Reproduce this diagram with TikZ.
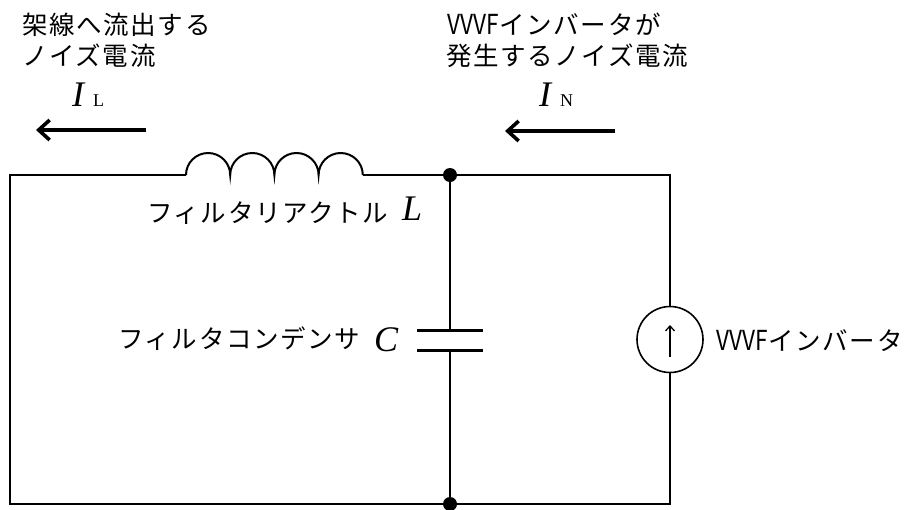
\documentclass[tikz,border=0pt]{standalone}
\usepackage{fontspec}
\setmainfont{Liberation Serif}
\newfontfamily\jp[LetterSpace=6.5]{Noto Sans CJK JP}
\newfontfamily\vf[FakeStretch=0.82,Kerning=Off,LetterSpace=1,Scale=1.08]{Noto Sans CJK JP}
\usetikzlibrary{arrows.meta}
\tikzset{
  wire/.style={line width=2pt,line join=miter},
  curarrow/.style={line width=4pt,-{Straight Barb[length=11pt,width=20pt,line width=3.6pt]}},
  jtext/.style={anchor=base west,inner sep=0pt,font=\jp\fontsize{25.5}{25.5}\selectfont},
  sym/.style={inner sep=0pt,font=\itshape\fontsize{36}{36}\selectfont},
  sub/.style={inner sep=0pt,anchor=base west,font=\fontsize{18}{18}\selectfont},
  dot/.style={circle,fill=black,inner sep=0pt,minimum size=14pt},
}
\begin{document}
\begin{tikzpicture}[x=1pt,y=-1pt]
\useasboundingbox (0,0) rectangle (905,509);
\coordinate (tl) at (10,175);
\coordinate (bl) at (10,504);
\coordinate (tr) at (670,175);
\coordinate (br) at (670,504);
\coordinate (li) at (186,175);
\coordinate (lo) at (363,175);
\node[dot] (jt) at (450,175) {};
\node[dot] (jb) at (450,504) {};
\coordinate (c1) at (450,330);
\coordinate (c2) at (450,350);
\coordinate (c1l) at (417,330);
\coordinate (c1r) at (483,330);
\coordinate (c2l) at (417,350);
\coordinate (c2r) at (483,350);
\node[circle,draw,line width=1.6pt,minimum size=66pt,inner sep=0pt] (src) at (670,339.5) {};
\draw[wire] (li) -- (tl) -- (bl) -- (jb.center) -- (br) -- (src.south);
\draw[wire] (src.north) -- (tr) -- (jt.center) -- (lo);
\draw[wire] (jt.center) -- (c1);
\draw[wire] (c2) -- (jb.center);
\draw[line width=3pt] (c1l) -- (c1r);
\draw[line width=3pt] (c2l) -- (c2r);
\draw[wire] (li) arc[start angle=180,end angle=360,x radius=22.1,y radius=22]
  arc[start angle=180,end angle=360,x radius=22.1,y radius=22]
  arc[start angle=180,end angle=360,x radius=22.1,y radius=22]
  arc[start angle=180,end angle=360,x radius=22.1,y radius=22];
\coordinate (sa1) at (670,357);
\coordinate (sa2) at (670,325);
\draw[line width=1.6pt,-{Straight Barb[length=5pt,width=9pt,line width=1.3pt]}] (sa1) -- (sa2);
\coordinate (a1s) at (146,130);
\coordinate (a1e) at (36,130);
\coordinate (a2s) at (615,131);
\coordinate (a2e) at (505,131);
\draw[curarrow] (a1s) -- (a1e);
\draw[curarrow] (a2s) -- (a2e);
\node[jtext] (t1) at (22,34) {架線へ流出する};
\node[jtext] (t2) at (22,65) {ノイズ電流};
\node[jtext] (t3) at (447,34) {{\vf VVVF}インバータが};
\node[jtext] (t4) at (446,65) {発生するノイズ電流};
\node[sym,anchor=base west] (il) at (72,106) {I};
\node[sub] (ils) at (93,106) {L};
\node[sym,anchor=base west] (in) at (539,106) {I};
\node[sub] (ins) at (560,106) {N};
\node[jtext] (t5) at (147,222) {フィルタリアクトル};
\node[sym,anchor=base west] (ll) at (402,220) {L};
\node[jtext] (t6) at (118,348) {フィルタコンデンサ};
\node[sym,anchor=base west] (cc) at (374,351) {C};
\node[jtext] (t7) at (716,350) {{\vf VVVF}インバータ};
\end{tikzpicture}
\end{document}
